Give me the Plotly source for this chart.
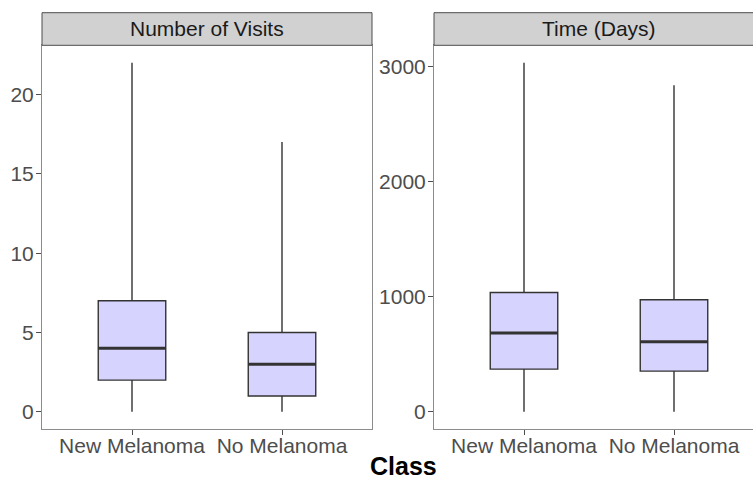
import plotly.graph_objects as go

# Box summaries per class, one facet per measure
classes = ["New Melanoma", "No Melanoma"]
class_pos = [1, 2]

visits_min = [0, 0]
visits_q1 = [2, 1]
visits_median = [4, 3]
visits_q3 = [7, 5]
visits_max = [22, 17]

days_min = [0, 0]
days_q1 = [371, 354]
days_median = [684, 609]
days_q3 = [1037, 974]
days_max = [3032, 2837]

facet_titles = ["Number of Visits", "Time (Days)"]
visits_ticks = [0, 5, 10, 15, 20]
days_ticks = [0, 1000, 2000, 3000]

W, H = 753, 479
BOX_W = 0.45
FILL = "#D6D3FF"
EDGE = "#333333"
FONT = "Liberation Sans, Arial, sans-serif"

fig = go.Figure()


def add_panel(xa, ya, lo, q1, med, q3, hi):
    fig.add_trace(go.Box(
        x=class_pos, q1=q1, median=med, q3=q3,
        lowerfence=lo, upperfence=hi,
        width=BOX_W, fillcolor=FILL,
        line=dict(color=EDGE, width=1.4),
        whiskerwidth=0, xaxis=xa, yaxis=ya,
        showlegend=False, hoverinfo="skip",
    ))
    # thicker median bars on top of the boxes
    for p, m in zip(class_pos, med):
        fig.add_trace(go.Scatter(
            x=[p - BOX_W / 2, p + BOX_W / 2], y=[m, m], mode="lines",
            line=dict(color=EDGE, width=3), xaxis=xa, yaxis=ya,
            showlegend=False, hoverinfo="skip",
        ))


add_panel("x", "y", visits_min, visits_q1, visits_median, visits_q3, visits_max)
add_panel("x2", "y2", days_min, days_q1, days_median, days_q3, days_max)

# pixel geometry of the two panels
L1, R1 = 42, 372
L2, R2 = 434, 764
TOP, BOT = 45.3, 429.3
STRIP_TOP = 12.7
px_per_unit = (R1 - L1) / 2.2


def fx(px):
    return px / W


def fy(py):
    return (H - py) / H


def y_range(vals_lo, vals_hi):
    lo, hi = min(vals_lo), max(vals_hi)
    pad = (hi - lo) * 0.05
    return [lo - pad, hi + pad]


tickfont = dict(family=FONT, size=21, color="#4D4D4D")
axis_common = dict(
    showgrid=False, zeroline=False, showline=True, linecolor="#8C8C8C",
    linewidth=1, ticks="outside", ticklen=5, tickcolor="#4D4D4D",
    tickfont=tickfont, automargin=False,
)
x_common = dict(ticklabelstandoff=-8, **axis_common)
y_common = dict(ticklabelstandoff=-2, **axis_common)

fig.update_layout(
    width=W, height=H,
    margin=dict(l=0, r=0, t=0, b=0),
    paper_bgcolor="white", plot_bgcolor="white",
    template="none",
    xaxis=dict(domain=[fx(L1), fx(R1)], range=[0.4, 2.6],
               tickvals=class_pos, ticktext=classes, mirror=True,
               anchor="y", **x_common),
    yaxis=dict(domain=[fy(BOT), fy(TOP)],
               range=y_range(visits_min, visits_max),
               tickvals=visits_ticks, mirror=True, anchor="x",
               **y_common),
    xaxis2=dict(domain=[fx(L2), 1.0],
                range=[0.4, 0.4 + (W - L2) / px_per_unit],
                tickvals=class_pos, ticktext=classes, mirror=True,
                anchor="y2", **x_common),
    yaxis2=dict(domain=[fy(BOT), fy(TOP)],
                range=y_range(days_min, days_max),
                tickvals=days_ticks, mirror=False, anchor="x2",
                **y_common),
)

# facet strips
for (l, r), title in zip([(L1, R1), (L2, R2)], facet_titles):
    fig.add_shape(type="rect", xref="paper", yref="paper",
                  x0=fx(l), x1=fx(r), y0=fy(TOP), y1=fy(STRIP_TOP),
                  fillcolor="#D1D1D1", line=dict(color="#4D4D4D", width=1),
                  layer="above")
    fig.add_annotation(x=fx((l + r) / 2), y=fy((TOP + STRIP_TOP) / 2),
                       xref="paper", yref="paper", text=title,
                       showarrow=False, xanchor="center", yanchor="middle",
                       font=dict(family=FONT, size=21, color="#1A1A1A"))

# shared x-axis title
fig.add_annotation(x=fx((L1 + R2) / 2), y=fy(482), xref="paper", yref="paper",
                   text="<b>Class</b>", showarrow=False,
                   xanchor="center", yanchor="bottom",
                   font=dict(family=FONT, size=25, color="black"))

fig.write_html("out.html")
